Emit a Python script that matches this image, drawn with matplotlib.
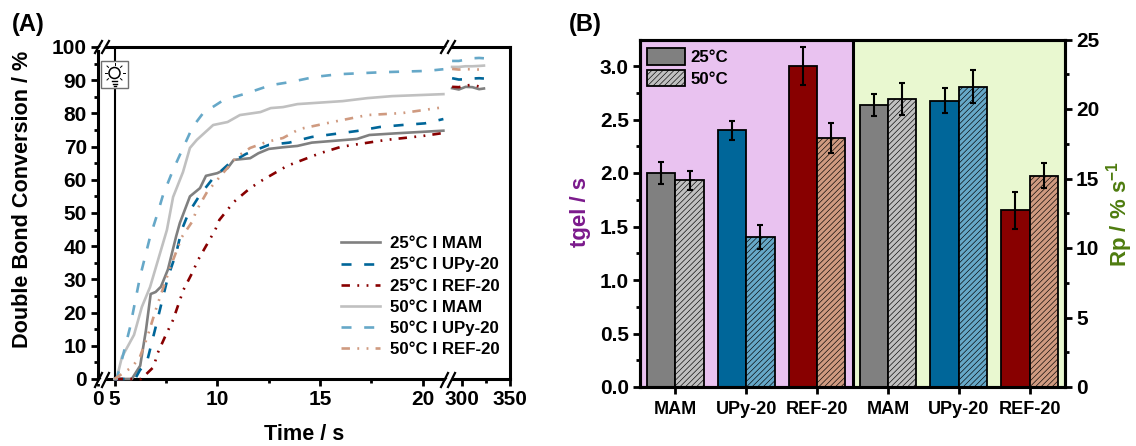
import numpy as np
import matplotlib
matplotlib.use('Agg')
import matplotlib.pyplot as plt
from matplotlib.patches import Patch, Rectangle, Circle, Polygon

plt.rcParams['font.family'] = ['Liberation Sans', 'DejaVu Sans']
plt.rcParams['font.weight'] = 'bold'
plt.rcParams['axes.labelweight'] = 'bold'
plt.rcParams['mathtext.fontset'] = 'custom'
plt.rcParams['mathtext.bf'] = 'Liberation Sans:bold'
plt.rcParams['mathtext.rm'] = 'Liberation Sans:bold'
plt.rcParams['hatch.linewidth'] = 0.45

# panel A curves
t_25_mam = [5, 5.84, 6.25, 6.53, 6.76, 7.0, 7.26, 7.6, 8.0, 8.18, 8.67, 9.16, 9.45, 10, 10.5, 10.8, 11.6, 12, 12.5, 13.2, 13.9, 14.6, 16.8, 17.4, 18.7, 21]
c_25_mam = [0, 0, 4, 14.7, 25.6, 26.2, 27.8, 33, 43, 47, 55, 57.5, 61.2, 62, 63.5, 66, 66.5, 68, 69.3, 69.8, 70.2, 71.2, 72.3, 73.5, 74, 74.8]
t_25_upy = [5, 6.0, 6.24, 6.56, 7.05, 7.36, 7.6, 8.0, 8.27, 8.6, 9.15, 9.8, 10.6, 11.4, 12.5, 13.5, 14.6, 15.7, 16.8, 17.9, 19, 20.1, 21]
c_25_upy = [0, 0, 2.7, 4.7, 16.8, 24.7, 30.7, 37.9, 44.9, 50, 55.4, 60.5, 65, 67.8, 70.5, 71.2, 72.9, 73.8, 74.7, 75.9, 76.5, 77, 78.3]
t_25_ref = [5, 6.3, 6.5, 6.9, 7.1, 7.5, 7.85, 8.35, 8.8, 9.06, 9.9, 10.1, 10.8, 11.6, 12.2, 13.4, 15, 16, 16.6, 18.2, 20, 21]
c_25_ref = [0, 0, 1.2, 3.6, 7.8, 13.3, 17.8, 26.8, 32.2, 35.8, 44.9, 47.9, 53.3, 57.5, 59.9, 64.2, 68, 69.9, 70.5, 72, 73.2, 74.1]
t_50_mam = [5, 5.1, 5.36, 5.66, 5.95, 6.33, 6.73, 7.55, 7.85, 8.33, 8.67, 9, 9.8, 10.5, 11.1, 12.1, 12.6, 13.2, 13.9, 16.1, 17.3, 18.5, 21]
c_50_mam = [0, 0, 6.6, 10, 13.3, 21.7, 27.7, 44.9, 54.8, 62.3, 69.6, 72, 76.5, 77.4, 79.5, 80.4, 81.6, 81.9, 82.8, 83.7, 84.6, 85.2, 85.8]
t_50_upy = [5, 5.1, 5.27, 5.75, 6.24, 6.73, 7.1, 7.36, 7.85, 8.8, 9.3, 10.3, 11.4, 12.6, 13.6, 14.75, 15.9, 18, 20.2, 21]
c_50_upy = [0, 0, 3.6, 15.4, 30.7, 42.8, 50, 55.4, 63, 75.9, 80, 84, 86, 88.5, 89.5, 91, 91.8, 92.4, 92.8, 93.3]
t_50_ref = [5, 5.85, 6.24, 6.6, 7.05, 7.7, 8.28, 8.77, 9, 9.5, 10, 10.95, 11.6, 12.4, 13.2, 14, 15.6, 17.3, 19, 20.7, 21]
c_50_ref = [0, 3.6, 6.7, 12.7, 21.7, 33.4, 42.8, 47.3, 50.9, 56.3, 60, 66.9, 69.6, 71.4, 72.6, 75.3, 77.4, 79.5, 80.1, 81.6, 81.8]

# long time end of the curves
t_end = [290, 297, 304, 311, 318, 323]
end_25_mam = [87.6, 87.2, 88.0, 87.9, 87.3, 87.5]
end_25_upy = [90.6, 90.2, 90.3, 90.5, 90.6, 90.5]
end_25_ref = [88.0, 87.9, 88.4, 88.6, 88.1, 88.0]
end_50_mam = [94.0, 94.0, 94.2, 94.2, 94.3, 94.4]
end_50_upy = [95.8, 95.8, 96.2, 96.6, 96.7, 96.6]
end_50_ref = [93.4, 93.2, 93.3, 93.3, 93.2, 93.4]

# panel B bars
groups = ['MAM', 'UPy-20', 'REF-20', 'MAM', 'UPy-20', 'REF-20']
tgel_25 = [2.0, 2.4, 3.0]
tgel_25_err = [0.10, 0.09, 0.18]
tgel_50 = [1.93, 1.4, 2.33]
tgel_50_err = [0.09, 0.11, 0.14]
rp_25 = [20.3, 20.6, 12.7]
rp_25_err = [0.8, 0.92, 1.3]
rp_50 = [20.7, 21.6, 15.2]
rp_50_err = [1.14, 1.2, 0.9]

GRAY, LGRAY = '#808080', '#c0c0c0'
BLUE, LBLUE = '#006699', '#66a8c8'
RED, LRED = '#880000', '#cf9a80'
W, H = 1136, 446
LW = 1.9


def axes_px(x0, y0, x1, y1):
    return [x0 / W, 1 - y1 / H, (x1 - x0) / W, (y1 - y0) / H]


fig = plt.figure(figsize=(W / 100, H / 100), dpi=100)

# ---- panel A ----
ax = fig.add_axes(axes_px(98, 47, 510, 379))
t_knots = [0, 5, 21.2, 287, 350]
pos_knots = [0, 16.5, 349.5, 351.2, 412]
ax.set_xscale('function', functions=(lambda v: np.interp(v, t_knots, pos_knots),
                                     lambda v: np.interp(v, pos_knots, t_knots)))
ax.set_xlim(0, 350)
ax.set_ylim(0, 100)

dash = (0, (3.8, 4.8))
dashdot = (0, (3.2, 2.8, 0.7, 2.8, 0.7, 2.7))
curves = [
    (t_25_mam, c_25_mam, end_25_mam, GRAY, '-', '25°C I MAM'),
    (t_25_upy, c_25_upy, end_25_upy, BLUE, dash, '25°C I UPy-20'),
    (t_25_ref, c_25_ref, end_25_ref, RED, dashdot, '25°C I REF-20'),
    (t_50_mam, c_50_mam, end_50_mam, LGRAY, '-', '50°C I MAM'),
    (t_50_upy, c_50_upy, end_50_upy, LBLUE, dash, '50°C I UPy-20'),
    (t_50_ref, c_50_ref, end_50_ref, LRED, dashdot, '50°C I REF-20'),
]
for tt, cc, ee, col, ls, lab in curves:
    ax.plot(tt, cc, color=col, ls=ls, lw=LW, label=lab, zorder=3, clip_on=False)
    ax.plot(t_end, ee, color=col, ls=ls, lw=LW, zorder=3)

ax.axvline(5, color='black', lw=1.5, zorder=1)
ax.set_xticks([0, 5, 10, 15, 20, 300, 350])
ax.set_xticks([7.5, 12.5, 17.5, 325], minor=True)
ax.set_yticks(np.arange(0, 101, 10))
ax.set_yticks(np.arange(5, 100, 10), minor=True)
ax.tick_params(which='major', length=5, width=2, labelsize=15, pad=3)
ax.tick_params(which='minor', length=3, width=2)
for s in ax.spines.values():
    s.set_linewidth(2.2)
ax.set_xlabel('Time / s', fontsize=15.6, labelpad=11)
ax.set_ylabel('Double Bond Conversion / %', fontsize=15.6)
ax.yaxis.set_label_coords(-0.157, 0.542)
ax.legend(loc='lower left', bbox_to_anchor=(0.59, 0.065), frameon=False, fontsize=12.2,
          handlelength=2.3, handletextpad=0.58, labelspacing=0.36, borderpad=0, borderaxespad=0)

# ---- panel B ----
bx = fig.add_axes(axes_px(640, 39.5, 1065, 387))
bx.set_xlim(-0.5, 5.5)
bx.set_ylim(0, 347.5 / 107)
bx.axvspan(-0.5, 2.5, color='#e9c2f0', lw=0)
bx.axvspan(2.5, 5.5, color='#e9f8d0', lw=0)
rx = bx.twinx()
rx.set_ylim(0, 25)

bw = 0.4
err_kw = dict(ecolor='black', elinewidth=1.5, capsize=2.5, capthick=1.5)
solid = [GRAY, BLUE, RED]
light = [LGRAY, LBLUE, LRED]
x_left = np.arange(3)
x_right = np.arange(3, 6)
bx.bar(x_left - bw / 2, tgel_25, bw, yerr=tgel_25_err, color=solid, edgecolor='black', linewidth=1.3, error_kw=err_kw)
bx.bar(x_left + bw / 2, tgel_50, bw, yerr=tgel_50_err, color=light, edgecolor='black', linewidth=1.3, hatch='//////', error_kw=err_kw)
rx.bar(x_right - bw / 2, rp_25, bw, yerr=rp_25_err, color=solid, edgecolor='black', linewidth=1.3, error_kw=err_kw)
rx.bar(x_right + bw / 2, rp_50, bw, yerr=rp_50_err, color=light, edgecolor='black', linewidth=1.3, hatch='//////', error_kw=err_kw)
rx.axvline(2.5, color='black', lw=2.2)

bx.set_xticks(range(6))
bx.set_xticklabels(groups)
bx.set_yticks(np.arange(0, 3.1, 0.5))
bx.set_yticks(np.arange(0.25, 3.1, 0.5), minor=True)
rx.set_yticks(np.arange(0, 26, 5))
rx.set_yticks(np.arange(2.5, 25, 5), minor=True)
bx.tick_params(axis='x', length=5, width=2, labelsize=13, pad=5)
for a in (bx, rx):
    a.tick_params(axis='y', which='major', length=5, width=2, labelsize=15, pad=3)
    a.tick_params(axis='y', which='minor', length=3, width=2)
    for s in a.spines.values():
        s.set_linewidth(2.2)
bx.set_ylabel('tgel / s', fontsize=16, color='#7b1a8c')
bx.yaxis.set_label_coords(-0.115, 0.504)
rx.set_ylabel(r'Rp / % s$\mathbf{^{-1}}$', fontsize=16, color='#4e7c0f')
rx.yaxis.set_label_coords(1.091, 0.497)

handles = [Patch(facecolor=GRAY, edgecolor='black', linewidth=1.3, label='25°C'),
           Patch(facecolor=LGRAY, edgecolor='black', linewidth=1.3, hatch='//////', label='50°C')]
rx.legend(handles=handles, loc='upper left', bbox_to_anchor=(0.017, 0.975), frameon=False, fontsize=12.2,
          handlelength=2.25, handleheight=1.15, handletextpad=0.3, labelspacing=0.25, borderpad=0, borderaxespad=0)

# ---- overlay in pixel coordinates: axis breaks, light bulb, panel letters ----
ov = fig.add_axes([0, 0, 1, 1], facecolor='none')
ov.set_xlim(0, W)
ov.set_ylim(H, 0)
ov.axis('off')

for x0, y0, y1 in [(95, 53, 41), (441, 53, 41), (95, 387, 373), (441, 387, 373)]:
    ov.add_patch(Polygon([(x0 + 2, y0 - 3), (x0 + 8, y0 - 3), (x0 + 14, y1 + 3), (x0 + 8, y1 + 3)],
                         facecolor='white', edgecolor='none'))
    ov.plot([x0, x0 + 7], [y0, y1], color='black', lw=1.6)
    ov.plot([x0 + 7, x0 + 14], [y0, y1], color='black', lw=1.6)

ov.add_patch(Rectangle((101, 61), 27, 27, facecolor='white', edgecolor='#707070', lw=1))
ov.add_patch(Circle((114.5, 73), 5.5, facecolor='white', edgecolor='black', lw=1.1))
for dx, dy in [(-10, 0), (10, 0), (-7.5, -7), (7.5, -7), (0, -10), (-7.5, 7), (7.5, 7)]:
    ov.plot([114.5 + dx, 114.5 + dx * 0.8], [73 + dy, 73 + dy * 0.8], color='black', lw=0.7)
ov.plot([112, 117], [81, 81], color='black', lw=1)
ov.plot([112.5, 116.5], [83.5, 83.5], color='black', lw=1)
ov.plot([113.5, 115.5], [85.5, 85.5], color='black', lw=1)

ov.text(12, 25, '(A)', fontsize=17, va='center', ha='left')
ov.text(569, 24, '(B)', fontsize=17, va='center', ha='left')

fig.savefig('out.png', dpi=100)
